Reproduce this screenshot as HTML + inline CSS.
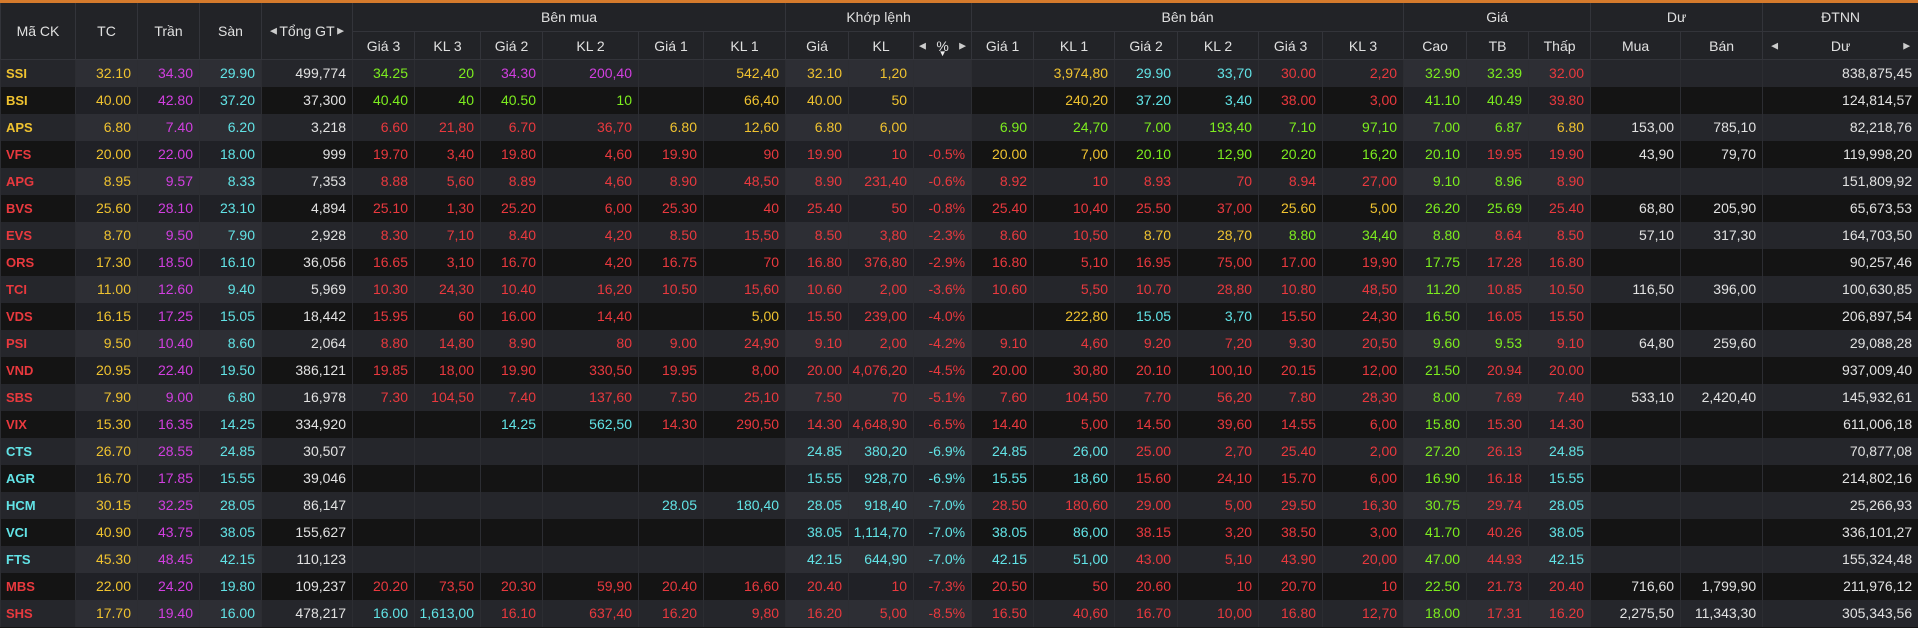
<!DOCTYPE html>
<html><head><meta charset="utf-8">
<style>
html,body{margin:0;padding:0;background:#141414;width:1918px;height:628px;overflow:hidden;}
body{font-family:"Liberation Sans Narrow","Liberation Sans",sans-serif;font-size:14px;}
#top{height:3px;background:#d57a2c;}
table{border-collapse:collapse;table-layout:fixed;width:1918px;}
th{background:#222327;color:#e0e0e0;font-weight:normal;font-size:14px;border:1px solid #33343a;border-top:none;text-align:center;padding:0;position:relative;}
th.g{height:28px;}
th.s{height:27px;}
td{height:27px;padding:0 6px 0 0;text-align:right;border-left:1px solid #2c2d32;border-right:1px solid #2c2d32;white-space:nowrap;overflow:hidden;box-sizing:border-box;}
tr.o td{background:#25262b;}
tr.e td{background:#141414;}
tr.o td.h{background:#2d2e34;}
tr.e td.h{background:#202126;}
td.sym{text-align:left;padding-left:5px;font-weight:bold;font-family:"Liberation Sans",sans-serif;font-size:13px;}
.ar{font-size:9px;color:#ccc;position:absolute;top:50%;transform:translateY(-50%);}
.dn{position:absolute;left:50%;bottom:1px;transform:translateX(-50%);font-size:8px;color:#eee;}
</style></head><body>
<div id="top"></div>
<table id="board">
<colgroup>
<col style="width:75px"><col style="width:62px"><col style="width:62px"><col style="width:62px"><col style="width:91px">
<col style="width:62px"><col style="width:66px"><col style="width:62px"><col style="width:96px"><col style="width:65px"><col style="width:82px">
<col style="width:63px"><col style="width:65px"><col style="width:58px">
<col style="width:62px"><col style="width:81px"><col style="width:63px"><col style="width:81px"><col style="width:64px"><col style="width:81px">
<col style="width:63px"><col style="width:62px"><col style="width:62px">
<col style="width:90px"><col style="width:82px"><col style="width:156px">
</colgroup>
<thead>
<tr>
<th rowspan="2">Mã CK</th>
<th rowspan="2">TC</th>
<th rowspan="2">Trần</th>
<th rowspan="2">Sàn</th>
<th rowspan="2"><span class="ar" style="left:8px">◀</span>Tổng GT<span class="ar" style="right:8px">▶</span></th>
<th colspan="6" class="g">Bên mua</th>
<th colspan="3" class="g">Khớp lệnh</th>
<th colspan="6" class="g">Bên bán</th>
<th colspan="3" class="g">Giá</th>
<th colspan="2" class="g">Dư</th>
<th class="g">ĐTNN</th>
</tr>
<tr>
<th class="s">Giá 3</th>
<th class="s">KL 3</th>
<th class="s">Giá 2</th>
<th class="s">KL 2</th>
<th class="s">Giá 1</th>
<th class="s">KL 1</th>
<th class="s">Giá</th>
<th class="s">KL</th>
<th class="s"><span class="ar" style="left:5px">◀</span>%<span class="dn">▼</span><span class="ar" style="right:5px">▶</span></th>
<th class="s">Giá 1</th>
<th class="s">KL 1</th>
<th class="s">Giá 2</th>
<th class="s">KL 2</th>
<th class="s">Giá 3</th>
<th class="s">KL 3</th>
<th class="s">Cao</th>
<th class="s">TB</th>
<th class="s">Thấp</th>
<th class="s">Mua</th>
<th class="s">Bán</th>
<th class="s"><span class="ar" style="left:8px">◀</span>Dư<span class="ar" style="right:8px">▶</span></th>
</tr>
</thead>
<tbody id="tb"></tbody>
</table>
<script>
const symbols=["SSI","BSI","APS","VFS","APG","BVS","EVS","ORS","TCI","VDS","PSI","VND","SBS","VIX","CTS","AGR","HCM","VCI","FTS","MBS","SHS"];
const refPrices=["32.10","40.00","6.80","20.00","8.95","25.60","8.70","17.30","11.00","16.15","9.50","20.95","7.90","15.30","26.70","16.70","30.15","40.90","45.30","22.00","17.70"];
const ceilPrices=["34.30","42.80","7.40","22.00","9.57","28.10","9.50","18.50","12.60","17.25","10.40","22.40","9.00","16.35","28.55","17.85","32.25","43.75","48.45","24.20","19.40"];
const floorPrices=["29.90","37.20","6.20","18.00","8.33","23.10","7.90","16.10","9.40","15.05","8.60","19.50","6.80","14.25","24.85","15.55","28.05","38.05","42.15","19.80","16.00"];
const totalValues=["499,774","37,300","3,218","999","7,353","4,894","2,928","36,056","5,969","18,442","2,064","386,121","16,978","334,920","30,507","39,046","86,147","155,627","110,123","109,237","478,217"];
// buy side: [g3,kl3,g2,kl2,g1,kl1]
const buySide=[
["34.25","20","34.30","200,40","","542,40"],
["40.40","40","40.50","10","","66,40"],
["6.60","21,80","6.70","36,70","6.80","12,60"],
["19.70","3,40","19.80","4,60","19.90","90"],
["8.88","5,60","8.89","4,60","8.90","48,50"],
["25.10","1,30","25.20","6,00","25.30","40"],
["8.30","7,10","8.40","4,20","8.50","15,50"],
["16.65","3,10","16.70","4,20","16.75","70"],
["10.30","24,30","10.40","16,20","10.50","15,60"],
["15.95","60","16.00","14,40","","5,00"],
["8.80","14,80","8.90","80","9.00","24,90"],
["19.85","18,00","19.90","330,50","19.95","8,00"],
["7.30","104,50","7.40","137,60","7.50","25,10"],
["","","14.25","562,50","14.30","290,50"],
["","","","","",""],
["","","","","",""],
["","","","","28.05","180,40"],
["","","","","",""],
["","","","","",""],
["20.20","73,50","20.30","59,90","20.40","16,60"],
["16.00","1,613,00","16.10","637,40","16.20","9,80"]];
const matchPrices=["32.10","40.00","6.80","19.90","8.90","25.40","8.50","16.80","10.60","15.50","9.10","20.00","7.50","14.30","24.85","15.55","28.05","38.05","42.15","20.40","16.20"];
const matchVols=["1,20","50","6,00","10","231,40","50","3,80","376,80","2,00","239,00","2,00","4,076,20","70","4,648,90","380,20","928,70","918,40","1,114,70","644,90","10","5,00"];
const changePct=["","","","-0.5%","-0.6%","-0.8%","-2.3%","-2.9%","-3.6%","-4.0%","-4.2%","-4.5%","-5.1%","-6.5%","-6.9%","-6.9%","-7.0%","-7.0%","-7.0%","-7.3%","-8.5%"];
// sell side: [g1,kl1,g2,kl2,g3,kl3]
const sellSide=[
["","3,974,80","29.90","33,70","30.00","2,20"],
["","240,20","37.20","3,40","38.00","3,00"],
["6.90","24,70","7.00","193,40","7.10","97,10"],
["20.00","7,00","20.10","12,90","20.20","16,20"],
["8.92","10","8.93","70","8.94","27,00"],
["25.40","10,40","25.50","37,00","25.60","5,00"],
["8.60","10,50","8.70","28,70","8.80","34,40"],
["16.80","5,10","16.95","75,00","17.00","19,90"],
["10.60","5,50","10.70","28,80","10.80","48,50"],
["","222,80","15.05","3,70","15.50","24,30"],
["9.10","4,60","9.20","7,20","9.30","20,50"],
["20.00","30,80","20.10","100,10","20.15","12,00"],
["7.60","104,50","7.70","56,20","7.80","28,30"],
["14.40","5,00","14.50","39,60","14.55","6,00"],
["24.85","26,00","25.00","2,70","25.40","2,00"],
["15.55","18,60","15.60","24,10","15.70","6,00"],
["28.50","180,60","29.00","5,00","29.50","16,30"],
["38.05","86,00","38.15","3,20","38.50","3,00"],
["42.15","51,00","43.00","5,10","43.90","20,00"],
["20.50","50","20.60","10","20.70","10"],
["16.50","40,60","16.70","10,00","16.80","12,70"]];
const highPrices=["32.90","41.10","7.00","20.10","9.10","26.20","8.80","17.75","11.20","16.50","9.60","21.50","8.00","15.80","27.20","16.90","30.75","41.70","47.00","22.50","18.00"];
const avgPrices=["32.39","40.49","6.87","19.95","8.96","25.69","8.64","17.28","10.85","16.05","9.53","20.94","7.69","15.29","26.13","16.18","29.74","40.26","44.93","21.73","17.31"];
const avgLabels=["32.39","40.49","6.87","19.95","8.96","25.69","8.64","17.28","10.85","16.05","9.53","20.94","7.69","15.30","26.13","16.18","29.74","40.26","44.93","21.73","17.31"];
const lowPrices=["32.00","39.80","6.80","19.90","8.90","25.40","8.50","16.80","10.50","15.50","9.10","20.00","7.40","14.30","24.85","15.55","28.05","38.05","42.15","20.40","16.20"];
const remainBuy=["","","153,00","43,90","","68,80","57,10","","116,50","","64,80","","533,10","","","","","","","716,60","2,275,50"];
const remainSell=["","","785,10","79,70","","205,90","317,30","","396,00","","259,60","","2,420,40","","","","","","","1,799,90","11,343,30"];
const foreignRoom=["838,875,45","124,814,57","82,218,76","119,998,20","151,809,92","65,673,53","164,703,50","90,257,46","100,630,85","206,897,54","29,088,28","937,009,40","145,932,61","611,006,18","70,877,08","214,802,16","25,266,93","336,101,27","155,324,48","211,976,12","305,343,56"];

const C={ref:"#f0c330",ceil:"#d23fe0",floor:"#62e3e6",up:"#7ded1f",down:"#e9393e",w:"#e2e2e2"};
function pc(p,i){
  if(p==="")return C.ref;
  const v=parseFloat(p),r=parseFloat(refPrices[i]),c=parseFloat(ceilPrices[i]),f=parseFloat(floorPrices[i]);
  if(v===c)return C.ceil; if(v===f)return C.floor; if(v===r)return C.ref;
  return v>r?C.up:C.down;
}
const tb=document.getElementById('tb');
function cell(tr,txt,color,name,cls){
  const td=document.createElement('td');
  
  
  if(cls)td.className=cls;
  td.textContent=txt;td.style.color=color;tr.appendChild(td);return td;
}
symbols.forEach((s,i)=>{
  const tr=document.createElement('tr');
  tr.className=i%2===0?'o':'e';
  
  
  const mc=pc(matchPrices[i],i);
  const sym=cell(tr,s,mc,'symbol-cell','sym');
  
  cell(tr,refPrices[i],C.ref,'reference-price','h');
  cell(tr,ceilPrices[i],C.ceil,'ceiling-price','h');
  cell(tr,floorPrices[i],C.floor,'floor-price','h');
  cell(tr,totalValues[i],C.w,'total-value');
  const b=buySide[i];
  for(let k=0;k<3;k++){
    const p=b[k*2],v=b[k*2+1],col=pc(p,i);
    cell(tr,p,col,'buy-price-'+(3-k));
    cell(tr,v,col,'buy-volume-'+(3-k));
  }
  cell(tr,matchPrices[i],mc,'match-price','h');
  cell(tr,matchVols[i],mc,'match-volume','h');
  cell(tr,changePct[i],mc,'change-percent','h');
  const sl=sellSide[i];
  for(let k=0;k<3;k++){
    const p=sl[k*2],v=sl[k*2+1],col=pc(p,i);
    cell(tr,p,col,'sell-price-'+(k+1));
    cell(tr,v,col,'sell-volume-'+(k+1));
  }
  cell(tr,highPrices[i],pc(highPrices[i],i),'high-price','h');
  cell(tr,avgLabels[i],pc(avgPrices[i],i),'average-price','h');
  cell(tr,lowPrices[i],pc(lowPrices[i],i),'low-price','h');
  cell(tr,remainBuy[i],C.w,'remaining-buy');
  cell(tr,remainSell[i],C.w,'remaining-sell');
  cell(tr,foreignRoom[i],C.w,'foreign-room');
  tb.appendChild(tr);
});
</script>
</body></html>
